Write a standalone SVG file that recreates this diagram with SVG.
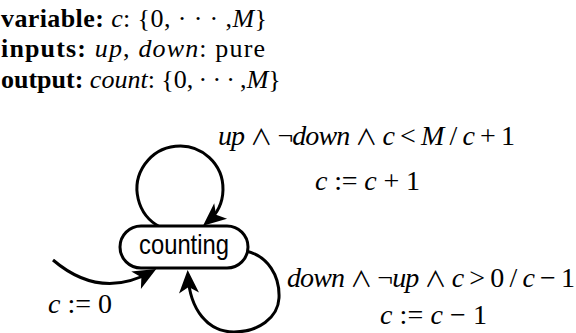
<svg xmlns="http://www.w3.org/2000/svg" width="576" height="333" viewBox="0 0 576 333">
<style>
.tex{font-family:"Liberation Serif","DejaVu Serif",serif;font-size:28px;fill:#000}
.hd{font-size:26px}
.b{font-weight:bold}
.i{font-style:italic}
.m{font-family:"Noto Sans CJK JP","DejaVu Serif",serif;font-size:22px}
.edge{fill:none;stroke:#000;stroke-width:3;marker-end:url(#ah)}
.node{fill:#fff;stroke:#000;stroke-width:3}
.lbl{font-family:"Liberation Sans","DejaVu Sans",sans-serif;font-size:28px;fill:#000}
</style>
<defs>
<marker id="ah" markerUnits="userSpaceOnUse" markerWidth="40" markerHeight="40" refX="0" refY="0" viewBox="-20 -20 40 40" orient="auto" overflow="visible">
<path d="M6,0 L-17,-10 L-11,0 L-17,10 Z" fill="#000"/>
</marker>
</defs>
<g id="header">
<text class="tex hd" x="1" y="27" textLength="266"><tspan class="b">variable:</tspan> <tspan class="i">c</tspan>: {0, · · · ,<tspan class="i">M</tspan>}</text>
<text class="tex hd" x="1" y="57" textLength="264"><tspan class="b">inputs:</tspan> <tspan class="i">up</tspan>, <tspan class="i">down</tspan>: pure</text>
<text class="tex hd" x="1" y="88"><tspan class="b">output:</tspan> <tspan class="i">count</tspan>: {0,&#8201;·&#8201;·&#8201;·&#8201;,<tspan class="i">M</tspan>}</text>
</g>
<g id="connectors">
<path id="e-init" class="edge" d="M53,260 Q100,300 151,272"/>
<path id="e-up" class="edge" d="M160,227 A43,43 0 1,1 207.6,221.9"/>
<path id="e-down" class="edge" d="M246,251 C268,256 280,276 279,298 C278,318 258,332 234,332 C208,332 190,310 188,276"/>
<text class="tex" x="48" y="313" textLength="64"><tspan class="i">c</tspan> := 0</text>
<text class="tex" x="218" y="145" textLength="297"><tspan class="i">up</tspan> <tspan class="m">∧</tspan> ¬<tspan class="i">down</tspan> <tspan class="m">∧</tspan> <tspan class="i">c</tspan> &lt; <tspan class="i">M</tspan> / <tspan class="i">c</tspan> + 1</text>
<text class="tex" x="315" y="190" textLength="105"><tspan class="i">c</tspan> := <tspan class="i">c</tspan> + 1</text>
<text class="tex" x="287" y="287" textLength="288"><tspan class="i">down</tspan> <tspan class="m">∧</tspan> ¬<tspan class="i">up</tspan> <tspan class="m">∧</tspan> <tspan class="i">c</tspan> &gt; 0 / <tspan class="i">c</tspan> − 1</text>
<text class="tex" x="380" y="324" textLength="107"><tspan class="i">c</tspan> := <tspan class="i">c</tspan> − 1</text>
</g>
<g id="counting">
<rect class="node" x="120" y="226" width="128" height="42" rx="21" ry="21"/>
<text class="lbl" x="139" y="254" textLength="90" lengthAdjust="spacingAndGlyphs">counting</text>
</g>
</svg>
